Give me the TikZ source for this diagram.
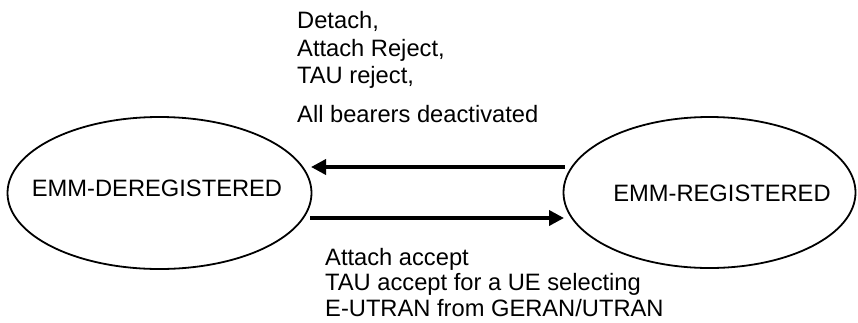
\documentclass[tikz,border=0pt]{standalone}
\usepackage{fontspec}
\setmainfont{Liberation Sans}
\usetikzlibrary{arrows.meta,shapes.geometric}
\begin{document}
\begin{tikzpicture}[x=1pt,y=-1pt,
  statebox/.style={draw=black,line width=1.8pt,ellipse,inner sep=0pt},
  lbl/.style={inner sep=0pt,font=\fontsize{23.7}{27}\selectfont},
  trans/.style={line width=3.6pt,-{Triangle[length=15pt,width=15pt]}}]
\useasboundingbox (0,0) rectangle (858,322);
\node[statebox,minimum width=304pt,minimum height=152pt] (dereg) at (159.5,193) {};
\node[statebox,minimum width=292pt,minimum height=151pt] (reg) at (709.5,192.5) {};
\node[lbl,anchor=base] (deregtext) at (157,196.5) {EMM-DEREGISTERED};
\node[lbl,anchor=base] (regtext) at (722,201.5) {EMM-REGISTERED};
\coordinate (a1s) at (565,167);
\coordinate (a1e) at (311,167);
\coordinate (a2s) at (310,218);
\coordinate (a2e) at (564,218);
\draw[trans] (a1s) -- (a1e);
\draw[trans] (a2s) -- (a2e);
\node[lbl,anchor=base west] (t1) at (297,28.5) {Detach,};
\node[lbl,anchor=base west] (t2) at (297,56) {Attach Reject,};
\node[lbl,anchor=base west] (t3) at (297,83.5) {TAU reject,};
\node[lbl,anchor=base west] (t4) at (297,122) {All bearers deactivated};
\node[lbl,anchor=base west] (b1) at (325,265) {Attach accept};
\node[lbl,anchor=base west] (b2) at (325,290.5) {TAU accept for a UE selecting};
\node[lbl,anchor=base west] (b3) at (325,316.5) {E-UTRAN from GERAN/UTRAN};
\end{tikzpicture}
\end{document}
